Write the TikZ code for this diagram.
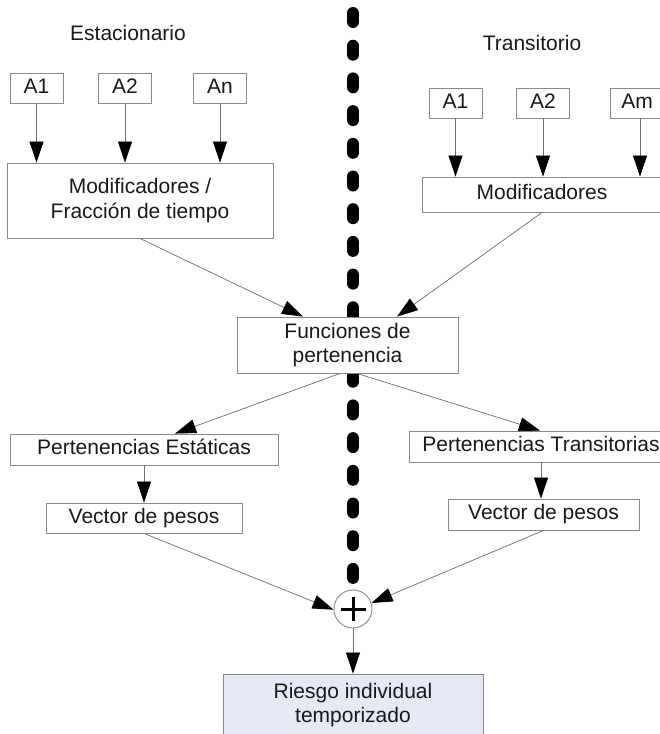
\documentclass[tikz,border=0pt]{standalone}
\usepackage{fontspec}
\setmainfont{Liberation Sans}
\usetikzlibrary{arrows.meta}
\definecolor{boxline}{HTML}{8A8A8A}
\definecolor{connline}{HTML}{6E6E6E}
\definecolor{riskfill}{HTML}{E4E9F4}
\begin{document}
\begin{tikzpicture}[x=1pt,y=-1pt,
  every node/.style={font=\fontsize{21}{24.5}\selectfont, text=black!90},
  bx/.style={draw=boxline, fill=white, line width=0.9pt, inner sep=0pt, align=center},
  one/.style={text height=15pt, text depth=4.5pt},
  conn/.style={draw=connline, line width=0.7pt, -{Triangle[length=21pt,width=14pt,color=black]}},
  sep/.style={line width=12.5pt, line cap=round, dash pattern=on 8.5pt off 24.2pt}]
\useasboundingbox (0,0) rectangle (660,734);
\clip (0,0) rectangle (660,734);
\fill[white] (0,0) rectangle (660,734);

% separator
\coordinate (sepTop) at (353,13.25);
\coordinate (sepBot) at (353,590);
\draw[sep] (sepTop) -- (sepBot);

% titles
\node (est) at (128,33) {Estacionario};
\node (tra) at (532,43) {Transitorio};

% left inputs
\node[bx, one, minimum width=53pt, minimum height=30pt] (a1l) at (36.5,88) {A1};
\node[bx, one, minimum width=53pt, minimum height=30pt] (a2l) at (125,88) {A2};
\node[bx, one, minimum width=53pt, minimum height=30pt] (anl) at (220,88) {An};
\node[bx, minimum width=266pt, minimum height=75pt] (modl) at (140,200.5) {Modificadores /\\Fracción de tiempo};

% right inputs
\node[bx, one, minimum width=53pt, minimum height=30pt] (a1r) at (455.5,103) {A1};
\node[bx, one, minimum width=53pt, minimum height=30pt] (a2r) at (543,103) {A2};
\node[bx, one, minimum width=53pt, minimum height=30pt] (amr) at (637,103) {Am};
\node[bx, one, minimum width=240pt, minimum height=35pt] (modr) at (542,194.5) {Modificadores};

% membership
\node[bx, minimum width=221pt, minimum height=56pt] (fun) at (347.5,345) {Funciones de\\pertenencia};

\node[bx, one, minimum width=268pt, minimum height=31pt] (pe) at (144,449.5) {Pertenencias Estáticas};
\node[bx, one, minimum width=196pt, minimum height=30pt] (vpl) at (144,518) {Vector de pesos};

\node[bx, one, minimum width=264pt, minimum height=31pt] (pt) at (541,446.5) {Pertenencias Transitorias};
\node[bx, one, minimum width=191pt, minimum height=31pt] (vpr) at (543.5,514.5) {Vector de pesos};

\node[draw=boxline, fill=white, line width=0.9pt, circle, minimum size=38pt, inner sep=0pt] (circ) at (353,609) {};
\draw[line width=3pt, black] ([xshift=-12.5pt]circ.center) -- ([xshift=12.5pt]circ.center);
\draw[line width=3pt, black] ([yshift=12pt]circ.center) -- ([yshift=-12pt]circ.center);

\node[draw=boxline, fill=riskfill, line width=0.9pt, inner sep=0pt, align=center,
      minimum width=260pt, minimum height=62pt] (risk) at (353,705) {Riesgo individual\\temporizado};

% connectors
\draw[conn] (a1l) -- (a1l |- modl.north);
\draw[conn] (a2l) -- (a2l |- modl.north);
\draw[conn] (anl) -- (anl |- modl.north);
\draw[conn] (a1r) -- (a1r |- modr.north);
\draw[conn] (a2r) -- (a2r |- modr.north);
\draw[conn] ([xshift=3pt]amr.south) -- ([xshift=3pt]amr.south |- modr.north);

\draw[conn] (modl.south) -- ([xshift=-44.5pt]fun.north);
\draw[conn] (modr.south) -- ([xshift=49.5pt]fun.north);

\draw[conn] ([xshift=-7.5pt]fun.south) -- ([xshift=31pt]pe.north);
\draw[conn] ([xshift=9.5pt]fun.south) -- ([xshift=-1pt]pt.north);

\draw[conn] (pe.south) -- (pe.south |- vpl.north);
\draw[conn] (pt.south) -- (pt.south |- vpr.north);

\draw[conn] (vpl.south) -- (circ.182);
\draw[conn] (vpr.south) -- (circ.18);
\draw[conn] (circ.south) -- (risk.north);
\end{tikzpicture}
\end{document}
